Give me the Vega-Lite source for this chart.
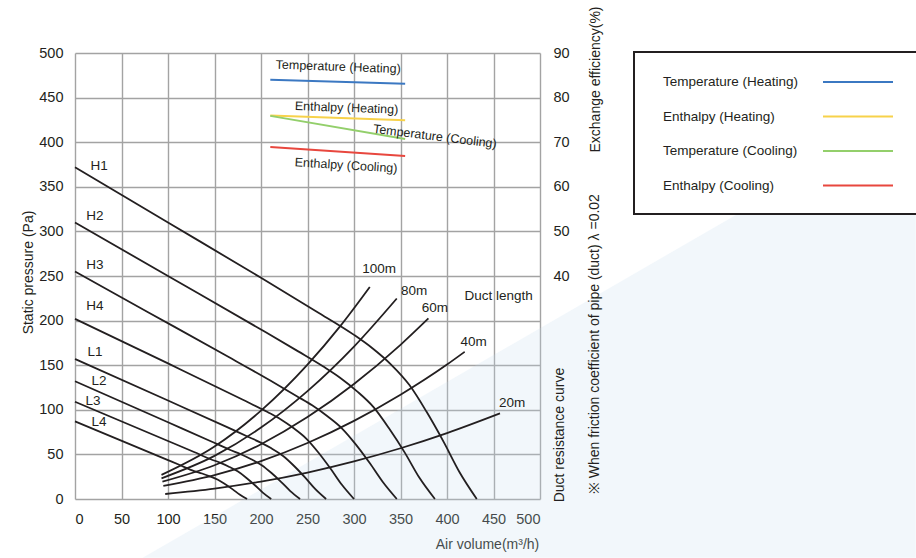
{
  "$schema": "https://vega.github.io/schema/vega-lite/v6.json",
  "width": 465,
  "height": 446,
  "autosize": {"type": "none"},
  "padding": {"left": 75, "top": 53, "right": 376, "bottom": 59},
  "background": "#ffffff",
  "config": {
    "font": "Liberation Sans",
    "view": {"stroke": null},
    "axis": {
      "grid": true,
      "gridColor": "#a3a3a3",
      "gridWidth": 1.4,
      "domain": false,
      "ticks": false,
      "labelFontSize": 14.5,
      "labelColor": "#231f20",
      "titleFontSize": 14,
      "titleFontWeight": "normal",
      "titleColor": "#231f20",
      "labelOverlap": false
    },
    "legend": {"strokeWidth": 2},
    "text": {"fontSize": 13.5, "color": "#231f20"}
  },
  "datasets": {
    "band": [
      {"Q": 72.7, "top": -66, "bottom": -66},
      {"Q": 904, "top": 435, "bottom": -66}
    ],
    "fan": [
      {"curve": "H1", "Q": 0, "P": 372}, {"curve": "H1", "Q": 100, "P": 310}, {"curve": "H1", "Q": 200, "P": 248},
      {"curve": "H1", "Q": 260, "P": 210}, {"curve": "H1", "Q": 300, "P": 184}, {"curve": "H1", "Q": 319.8, "P": 169},
      {"curve": "H1", "Q": 339.6, "P": 151}, {"curve": "H1", "Q": 359.4, "P": 128}, {"curve": "H1", "Q": 377.9, "P": 98},
      {"curve": "H1", "Q": 396.4, "P": 64}, {"curve": "H1", "Q": 413.5, "P": 30}, {"curve": "H1", "Q": 432, "P": 0},
      {"curve": "H2", "Q": 0, "P": 310}, {"curve": "H2", "Q": 100, "P": 250}, {"curve": "H2", "Q": 200, "P": 190},
      {"curve": "H2", "Q": 240, "P": 165.5}, {"curve": "H2", "Q": 267, "P": 148.5}, {"curve": "H2", "Q": 285, "P": 136},
      {"curve": "H2", "Q": 303, "P": 121}, {"curve": "H2", "Q": 321, "P": 103}, {"curve": "H2", "Q": 337.8, "P": 79},
      {"curve": "H2", "Q": 354.6, "P": 52}, {"curve": "H2", "Q": 370.2, "P": 24}, {"curve": "H2", "Q": 387, "P": 0},
      {"curve": "H3", "Q": 0, "P": 255}, {"curve": "H3", "Q": 80, "P": 208.6}, {"curve": "H3", "Q": 160, "P": 162.2},
      {"curve": "H3", "Q": 210, "P": 132.8}, {"curve": "H3", "Q": 239, "P": 115}, {"curve": "H3", "Q": 255, "P": 105},
      {"curve": "H3", "Q": 271.1, "P": 93}, {"curve": "H3", "Q": 287.2, "P": 79}, {"curve": "H3", "Q": 302.1, "P": 61},
      {"curve": "H3", "Q": 317.1, "P": 40}, {"curve": "H3", "Q": 331, "P": 19}, {"curve": "H3", "Q": 346, "P": 0},
      {"curve": "H4", "Q": 0, "P": 202}, {"curve": "H4", "Q": 100, "P": 152}, {"curve": "H4", "Q": 180, "P": 111.5},
      {"curve": "H4", "Q": 207, "P": 97.5}, {"curve": "H4", "Q": 221, "P": 89.5}, {"curve": "H4", "Q": 234.9, "P": 79.5},
      {"curve": "H4", "Q": 248.9, "P": 67.5}, {"curve": "H4", "Q": 261.9, "P": 51.9}, {"curve": "H4", "Q": 274.9, "P": 33.9},
      {"curve": "H4", "Q": 287, "P": 15.9}, {"curve": "H4", "Q": 300, "P": 0},
      {"curve": "L1", "Q": 0, "P": 157}, {"curve": "L1", "Q": 100, "P": 110.4}, {"curve": "L1", "Q": 163, "P": 80.8},
      {"curve": "L1", "Q": 186, "P": 69.8}, {"curve": "L1", "Q": 198.6, "P": 63.8}, {"curve": "L1", "Q": 211.2, "P": 56.8},
      {"curve": "L1", "Q": 223.8, "P": 48.2}, {"curve": "L1", "Q": 235.6, "P": 37}, {"curve": "L1", "Q": 247.3, "P": 24.2},
      {"curve": "L1", "Q": 258.2, "P": 11.3}, {"curve": "L1", "Q": 270, "P": 0},
      {"curve": "L2", "Q": 0, "P": 132}, {"curve": "L2", "Q": 100, "P": 86}, {"curve": "L2", "Q": 146, "P": 64.8},
      {"curve": "L2", "Q": 167, "P": 54.9}, {"curve": "L2", "Q": 178.3, "P": 50.2}, {"curve": "L2", "Q": 189.5, "P": 44.6},
      {"curve": "L2", "Q": 200.8, "P": 37.9}, {"curve": "L2", "Q": 211.3, "P": 29.1}, {"curve": "L2", "Q": 221.8, "P": 19},
      {"curve": "L2", "Q": 231.5, "P": 8.9}, {"curve": "L2", "Q": 242, "P": 0},
      {"curve": "L3", "Q": 0, "P": 109}, {"curve": "L3", "Q": 100, "P": 65}, {"curve": "L3", "Q": 128, "P": 52.7},
      {"curve": "L3", "Q": 146, "P": 44.6}, {"curve": "L3", "Q": 155.8, "P": 40.7}, {"curve": "L3", "Q": 165.5, "P": 36.2},
      {"curve": "L3", "Q": 175.3, "P": 30.7}, {"curve": "L3", "Q": 184.4, "P": 23.6}, {"curve": "L3", "Q": 193.5, "P": 15.4},
      {"curve": "L3", "Q": 201.9, "P": 7.2}, {"curve": "L3", "Q": 211, "P": 0},
      {"curve": "L4", "Q": 0, "P": 87}, {"curve": "L4", "Q": 100, "P": 43.6}, {"curve": "L4", "Q": 112, "P": 38.4},
      {"curve": "L4", "Q": 128, "P": 31.3}, {"curve": "L4", "Q": 136.6, "P": 28.6}, {"curve": "L4", "Q": 145.1, "P": 25.4},
      {"curve": "L4", "Q": 153.7, "P": 21.5}, {"curve": "L4", "Q": 161.6, "P": 16.5}, {"curve": "L4", "Q": 169.6, "P": 10.8},
      {"curve": "L4", "Q": 177, "P": 5.1}, {"curve": "L4", "Q": 185, "P": 0}
    ],
    "duct": [
      {"length": "100m", "Q": 93, "P": 27}, {"length": "100m", "Q": 150, "P": 58.8}, {"length": "100m", "Q": 200, "P": 99},
      {"length": "100m", "Q": 250, "P": 150.6}, {"length": "100m", "Q": 285, "P": 193.5}, {"length": "100m", "Q": 317, "P": 237.7},
      {"length": "80m", "Q": 93, "P": 23.2}, {"length": "80m", "Q": 150, "P": 48.3}, {"length": "80m", "Q": 200, "P": 80.1},
      {"length": "80m", "Q": 250, "P": 121}, {"length": "80m", "Q": 300, "P": 170.9}, {"length": "80m", "Q": 346, "P": 224.8},
      {"length": "60m", "Q": 94, "P": 19.4}, {"length": "60m", "Q": 150, "P": 37.8}, {"length": "60m", "Q": 200, "P": 61.4},
      {"length": "60m", "Q": 250, "P": 91.8}, {"length": "60m", "Q": 300, "P": 128.9}, {"length": "60m", "Q": 350, "P": 172.8},
      {"length": "60m", "Q": 380, "P": 202.4},
      {"length": "40m", "Q": 95, "P": 14.6}, {"length": "40m", "Q": 150, "P": 26.8}, {"length": "40m", "Q": 200, "P": 42.5},
      {"length": "40m", "Q": 250, "P": 62.8}, {"length": "40m", "Q": 300, "P": 87.6}, {"length": "40m", "Q": 350, "P": 116.9},
      {"length": "40m", "Q": 400, "P": 150.7}, {"length": "40m", "Q": 419, "P": 165},
      {"length": "20m", "Q": 97, "P": 5.6}, {"length": "20m", "Q": 150, "P": 11.6}, {"length": "20m", "Q": 200, "P": 19.5},
      {"length": "20m", "Q": 250, "P": 29.7}, {"length": "20m", "Q": 300, "P": 42.2}, {"length": "20m", "Q": 350, "P": 56.9},
      {"length": "20m", "Q": 400, "P": 73.9}, {"length": "20m", "Q": 457, "P": 96}
    ],
    "efficiency": [
      {"series": "Temperature (Heating)", "Q": 210, "eff": 84.0},
      {"series": "Temperature (Heating)", "Q": 355, "eff": 83.1},
      {"series": "Enthalpy (Heating)", "Q": 210, "eff": 76.0},
      {"series": "Enthalpy (Heating)", "Q": 355, "eff": 74.9},
      {"series": "Temperature (Cooling)", "Q": 210, "eff": 75.9},
      {"series": "Temperature (Cooling)", "Q": 355, "eff": 70.7},
      {"series": "Enthalpy (Cooling)", "Q": 210, "eff": 68.9},
      {"series": "Enthalpy (Cooling)", "Q": 355, "eff": 66.9}
    ],
    "fanLabels": [
      {"label": "H1", "Q": 26, "P": 373},
      {"label": "H2", "Q": 21.5, "P": 317},
      {"label": "H3", "Q": 21.5, "P": 262},
      {"label": "H4", "Q": 21.5, "P": 216},
      {"label": "L1", "Q": 21.5, "P": 165},
      {"label": "L2", "Q": 25.8, "P": 132},
      {"label": "L3", "Q": 19.4, "P": 110},
      {"label": "L4", "Q": 25.8, "P": 86}
    ],
    "ductLabels": [
      {"label": "100m", "Q": 327, "P": 257.7},
      {"label": "80m", "Q": 364.7, "P": 233},
      {"label": "60m", "Q": 387, "P": 214.5},
      {"label": "40m", "Q": 428.7, "P": 176},
      {"label": "20m", "Q": 470, "P": 107.5},
      {"label": "Duct length", "Q": 455.4, "P": 228}
    ],
    "notes": [
      {"label": "Duct resistance curve", "Q": 521, "P": 71.7},
      {"label": "※ When friction coefficient of pipe (duct)  λ =0.02", "Q": 559, "P": 173.6}
    ],
    "effLabelsFlat": [
      {"label": "Temperature (Heating)", "Q": 283, "eff": 86.9},
      {"label": "Enthalpy (Heating)", "Q": 292, "eff": 77.7}
    ],
    "effLabelCoolingT": [
      {"label": "Temperature (Cooling)", "Q": 387, "eff": 71.3}
    ],
    "effLabelCoolingE": [
      {"label": "Enthalpy (Cooling)", "Q": 291.5, "eff": 64.8}
    ]
  },
  "layer": [
    {
      "layer": [
        {
          "data": {"name": "band"},
          "mark": {"type": "area", "color": "#c5dcec", "opacity": 0.22},
          "encoding": {
            "x": {"field": "Q", "type": "quantitative", "scale": {"domain": [0, 500], "nice": false}},
            "y": {"field": "top", "type": "quantitative", "scale": {"domain": [0, 500], "nice": false}},
            "y2": {"field": "bottom"}
          }
        },
        {
          "data": {"name": "fan"},
          "mark": {"type": "line", "color": "#231f20", "strokeWidth": 1.8, "interpolate": "monotone"},
          "encoding": {
            "x": {
              "field": "Q", "type": "quantitative",
              "scale": {"domain": [0, 500], "nice": false},
              "axis": {
                "values": [0, 50, 100, 150, 200, 250, 300, 350, 400, 450, 500],
                "title": "Air volume(m³/h)",
                "titleX": 412, "titleY": 45,
                "titleAlign": "center", "titleBaseline": "middle",
                "labelPadding": 13
              }
            },
            "y": {
              "field": "P", "type": "quantitative",
              "scale": {"domain": [0, 500], "nice": false},
              "axis": {
                "values": [0, 50, 100, 150, 200, 250, 300, 350, 400, 450, 500],
                "title": "Static pressure (Pa)",
                "titleX": -47, "titleY": 219, "titleAngle": 270,
                "titleAlign": "center", "titleBaseline": "middle",
                "labelPadding": 12
              }
            },
            "detail": {"field": "curve"}
          }
        },
        {
          "data": {"name": "duct"},
          "mark": {"type": "line", "color": "#231f20", "strokeWidth": 1.8, "interpolate": "monotone"},
          "encoding": {
            "x": {"field": "Q", "type": "quantitative", "scale": {"domain": [0, 500], "nice": false}},
            "y": {"field": "P", "type": "quantitative", "scale": {"domain": [0, 500], "nice": false}},
            "detail": {"field": "length"}
          }
        },
        {
          "data": {"name": "fanLabels"},
          "mark": {"type": "text", "align": "center", "baseline": "middle"},
          "encoding": {
            "x": {"field": "Q", "type": "quantitative", "scale": {"domain": [0, 500], "nice": false}},
            "y": {"field": "P", "type": "quantitative", "scale": {"domain": [0, 500], "nice": false}},
            "text": {"field": "label"}
          }
        },
        {
          "data": {"name": "ductLabels"},
          "mark": {"type": "text", "align": "center", "baseline": "middle"},
          "encoding": {
            "x": {"field": "Q", "type": "quantitative", "scale": {"domain": [0, 500], "nice": false}},
            "y": {"field": "P", "type": "quantitative", "scale": {"domain": [0, 500], "nice": false}},
            "text": {"field": "label"}
          }
        },
        {
          "data": {"name": "notes"},
          "mark": {"type": "text", "align": "center", "baseline": "middle", "angle": 270, "fontSize": 14},
          "encoding": {
            "x": {"field": "Q", "type": "quantitative", "scale": {"domain": [0, 500], "nice": false}},
            "y": {"field": "P", "type": "quantitative", "scale": {"domain": [0, 500], "nice": false}},
            "text": {"field": "label"}
          }
        }
      ]
    },
    {
      "layer": [
        {
          "data": {"name": "efficiency"},
          "mark": {"type": "line", "strokeWidth": 2},
          "encoding": {
            "x": {"field": "Q", "type": "quantitative", "scale": {"domain": [0, 500], "nice": false}},
            "y": {
              "field": "eff", "type": "quantitative",
              "scale": {"domain": [-10, 90], "nice": false},
              "axis": {
                "orient": "right",
                "values": [40, 50, 60, 70, 80, 90],
                "grid": false,
                "title": "Exchange efficiency(%)",
                "titleX": 55, "titleY": 26, "titleAngle": 270,
                "titleAlign": "center", "titleBaseline": "middle",
                "labelPadding": 13
              }
            },
            "color": {
              "field": "series", "type": "nominal",
              "scale": {
                "domain": ["Temperature (Heating)", "Enthalpy (Heating)", "Temperature (Cooling)", "Enthalpy (Cooling)"],
                "range": ["#3b78c2", "#f7d24a", "#93cf6b", "#e8473e"]
              },
              "legend": {
                "title": null,
                "orient": "none",
                "legendX": 559,
                "legendY": -1,
                "symbolType": "M-5,0L5,0",
                "symbolSize": 196,
                "symbolStrokeWidth": 2,
                "rowPadding": 19.5,
                "padding": 22,
                "labelOffset": -203,
                "symbolOffset": 194,
                "strokeColor": "#231f20",
                "fillColor": "#ffffff",
                "labelFontSize": 13.5,
                "labelColor": "#231f20",
                "labelLimit": 500,
                "labelExpr": "datum.label + '                                        '"
              }
            }
          }
        },
        {
          "data": {"name": "effLabelsFlat"},
          "mark": {"type": "text", "align": "center", "baseline": "middle", "angle": 2, "fontSize": 12.5},
          "encoding": {
            "x": {"field": "Q", "type": "quantitative", "scale": {"domain": [0, 500], "nice": false}},
            "y": {"field": "eff", "type": "quantitative", "scale": {"domain": [-10, 90], "nice": false}},
            "text": {"field": "label"}
          }
        },
        {
          "data": {"name": "effLabelCoolingT"},
          "mark": {"type": "text", "align": "center", "baseline": "middle", "angle": 7, "fontSize": 12.5},
          "encoding": {
            "x": {"field": "Q", "type": "quantitative", "scale": {"domain": [0, 500], "nice": false}},
            "y": {"field": "eff", "type": "quantitative", "scale": {"domain": [-10, 90], "nice": false}},
            "text": {"field": "label"}
          }
        },
        {
          "data": {"name": "effLabelCoolingE"},
          "mark": {"type": "text", "align": "center", "baseline": "middle", "angle": 3.5, "fontSize": 12.5},
          "encoding": {
            "x": {"field": "Q", "type": "quantitative", "scale": {"domain": [0, 500], "nice": false}},
            "y": {"field": "eff", "type": "quantitative", "scale": {"domain": [-10, 90], "nice": false}},
            "text": {"field": "label"}
          }
        }
      ]
    }
  ],
  "resolve": {"scale": {"y": "independent"}}
}
